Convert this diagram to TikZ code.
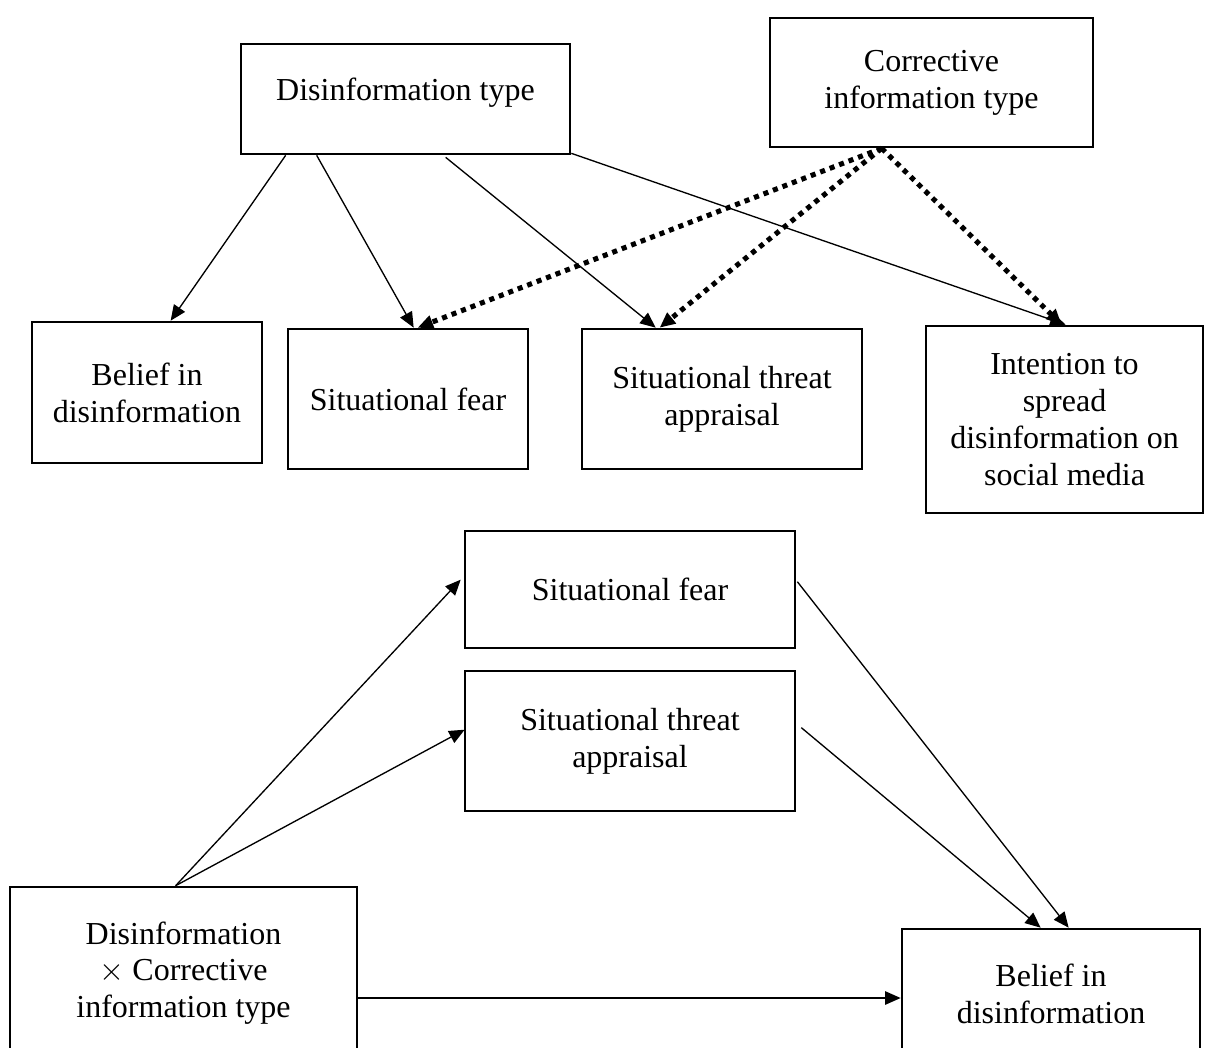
\documentclass[tikz,border=0pt]{standalone}
\usepackage{fontspec}
\setmainfont{Liberation Serif}
\usepackage{tikz}
\usetikzlibrary{calc}
\usetikzlibrary{arrows.meta}
\tikzset{
  boks/.style 2 args={draw, line width=1pt, inner sep=0pt, align=center,
    minimum width={#1*0.375pt}, minimum height={#2*0.375pt},
    font=\fontsize{12}{13.8}\selectfont},
  pil/.style={line width=.5pt, -{Triangle[length=5.8pt,width=5pt]}},
  korr/.style={line width=1.9pt, dash pattern=on 1.9pt off 1.9pt, -{Triangle[length=5.8pt,width=5pt]}}
}
\begin{document}
\begin{tikzpicture}[x=0.375pt,y=-0.375pt]
    \clip (0,0) rectangle (1206,1047);
    \node[boks={329}{110}] (dtype) at (405.5,99) {\raisebox{7.5pt}{Disinformation type}};
    \node[boks={323}{129}] (corr) at (931.5,82.5) {Corrective\\information type};
    \node[boks={230}{141}] (beliefA) at (147,392.5) {Belief in\\disinformation};
    \node[boks={240}{140}] (fearA) at (408,399) {Situational fear};
    \node[boks={280}{140}] (threatA) at (722,399) {Situational threat\\appraisal};
    \node[boks={277}{187}] (intent) at (1064.5,419.5) {Intention to\\spread\\disinformation on\\social media};
    \node[boks={330}{117}] (fearB) at (630,589.5) {Situational fear};
    \node[boks={330}{140}] (threatB) at (630,741) {Situational threat\\appraisal};
    \node[boks={347}{172}] (inter) at (183.5,973) {Disinformation\\$\times$ Corrective\\information type};
    \node[boks={298}{130}] (beliefB) at (1051,994) {Belief in\\disinformation};
    \draw [pil] ($(dtype.south west)+(46,0)$) -- ($(beliefA.north west)+(140,0)$);
    \draw [pil] ($(dtype.south west)+(77,0)$) -- ($(fearA.north west)+(127,0)$);
    \draw [pil] ($(dtype.south west)+(206,2)$) -- ($(threatA.north west)+(75,0)$);
    \draw [pil] ($(dtype.south east)+(0,-2)$) -- ($(intent.north west)+(141,0)$);
    \draw [korr] ($(corr.south west)+(113,0)$) -- ($(fearA.north west)+(131,0)$);
    \draw [korr] ($(corr.south west)+(113,0)$) -- ($(threatA.north west)+(79,0)$);
    \draw [korr] ($(corr.south west)+(113,0)$) -- ($(intent.north west)+(137,0)$);
    \draw [pil] ($(inter.north west)+(167,0)$) -- ($(fearB.north west)+(-3,50)$);
    \draw [pil] ($(inter.north west)+(167,0)$) -- ($(threatB.north west)+(1,60)$);
    \draw [pil] ($(fearB.north east)+(1,52)$) -- ($(beliefB.north west)+(168,0)$);
    \draw [pil] ($(threatB.north east)+(5,58)$) -- ($(beliefB.north west)+(140,0)$);
    \draw [pil] ($(inter.east)+(0,25)$) -- ($(inter.east -| beliefB.west)+(0,25)$);
\end{tikzpicture}
\end{document}
